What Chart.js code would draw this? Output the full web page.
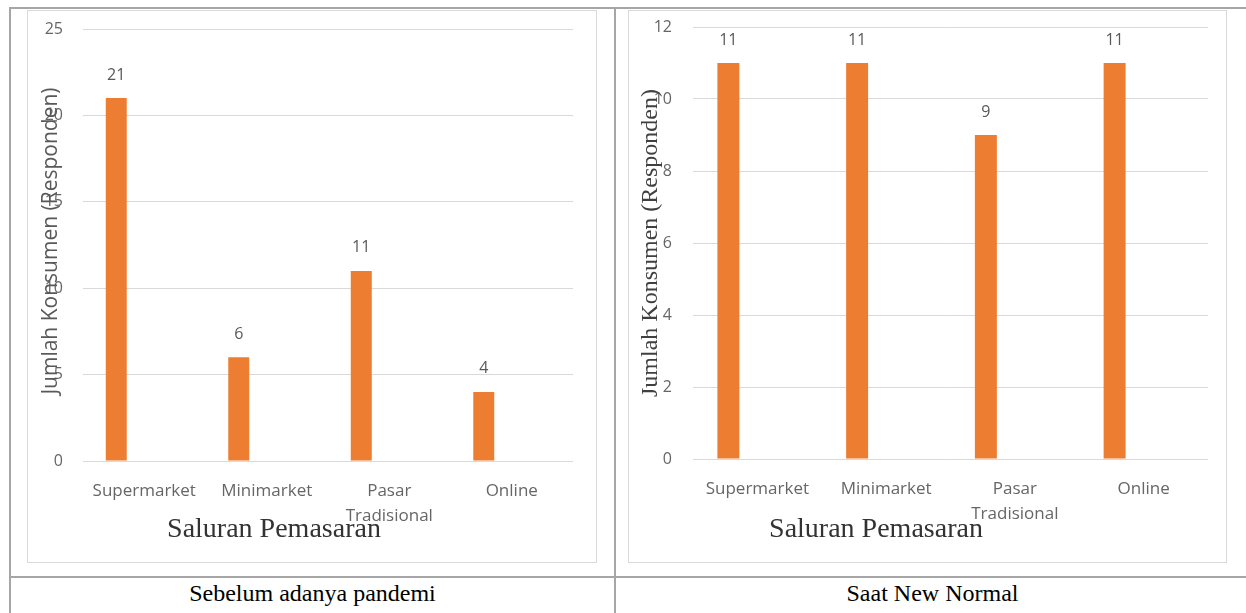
<!DOCTYPE html>
<html>
<head>
<meta charset="utf-8">
<script src="https://cdn.jsdelivr.net/npm/chart.js@4.4.0/dist/chart.umd.min.js"></script>
<style>
body { margin: 0; background: #fff; width: 1246px; height: 613px; overflow: hidden; position: relative; }
.line { position: absolute; background: #a6a6a6; }
.box { position: absolute; border: 1px solid #d9d9d9; box-sizing: border-box; }
canvas { position: absolute; }
.caption { position: absolute; top: 578px; height: 30px; line-height: 30px; text-align: center;
  font-family: "Liberation Serif", "Times New Roman", serif; font-size: 24px; color: #000; }
</style>
</head>
<body>
<!-- table lines -->
<div class="line" style="left:9px;top:7px;width:1237px;height:2px"></div>
<div class="line" style="left:9px;top:7px;width:2px;height:606px"></div>
<div class="line" style="left:614px;top:7px;width:2px;height:606px"></div>
<div class="line" style="left:9px;top:576px;width:1237px;height:2px"></div>

<div class="box" style="left:27px;top:10px;width:570px;height:553px"></div>
<div class="box" style="left:628px;top:10px;width:599px;height:553px"></div>
<canvas id="chartBefore" width="570" height="553" style="left:27px;top:10px"></canvas>
<canvas id="chartNormal" width="599" height="553" style="left:628px;top:10px"></canvas>

<div class="caption" style="left:10px;width:605px">Sebelum adanya pandemi</div>
<div class="caption" style="left:616px;width:633px">Saat New Normal</div>

<script>
// data
const channels = ['Supermarket', 'Minimarket', ['Pasar', 'Tradisional'], 'Online'];
const beforePandemic = [21, 6, 11, 4];
const newNormal = [11, 11, 9, 11];
const emptySeries = [null, null, null, null]; // Excel's hidden second series, keeps bars left of centre
const beforeTicks = { max: 25, step: 5 };
const normalTicks = { max: 12, step: 2 };

const orange = '#ED7D31';
const sans = '"Open Sans", "Noto Sans", sans-serif';
const serif = '"Liberation Serif", "Times New Roman", serif';

// axis titles drawn on top (they overlap the tick labels in the original) + value labels
const overlayText = {
    id: 'overlayText',
    afterDraw(chart, args, opts) {
        const ctx = chart.ctx;
        const area = chart.chartArea;

        // value labels above bars
        ctx.save();
        ctx.font = '16px ' + sans;
        ctx.fillStyle = '#595959';
        ctx.textAlign = 'center';
        ctx.textBaseline = 'middle';
        const meta = chart.getDatasetMeta(0);
        meta.data.forEach((bar, i) => {
            ctx.fillText(chart.data.datasets[0].data[i], bar.x, bar.y - 23);
        });
        ctx.restore();

        // x title
        ctx.save();
        ctx.font = '28px ' + serif;
        ctx.fillStyle = '#333';
        ctx.textAlign = 'center';
        ctx.textBaseline = 'middle';
        ctx.fillText('Saluran Pemasaran', opts.xTitleX, opts.xTitleY);
        ctx.restore();

        // y title
        ctx.save();
        ctx.font = opts.yTitleFont;
        ctx.fillStyle = opts.yTitleColor;
        ctx.textAlign = 'center';
        ctx.textBaseline = 'middle';
        ctx.translate(opts.yTitleX, (area.top + area.bottom) / 2 + opts.yTitleShift);
        ctx.rotate(-Math.PI / 2);
        ctx.fillText('Jumlah Konsumen (Responden)', 0, 0);
        ctx.restore();
    }
};

function makeChart(id, values, ticks, lay) {
    return new Chart(document.getElementById(id), {
        type: 'bar',
        data: {
            labels: channels,
            datasets: [
                { data: values, backgroundColor: orange, categoryPercentage: lay.cat, barPercentage: lay.bar },
                { data: emptySeries, backgroundColor: orange, categoryPercentage: lay.cat, barPercentage: lay.bar }
            ]
        },
        options: {
            responsive: false,
            animation: false,
            layout: { padding: { top: lay.top, right: lay.right, left: 0, bottom: 0 } },
            plugins: {
                legend: { display: false },
                tooltip: { enabled: false },
                overlayText: lay.titles
            },
            scales: {
                x: {
                    grid: { display: false },
                    border: { display: false },
                    ticks: {
                        color: '#666',
                        font: { family: sans, size: 17, lineHeight: '25px' },
                        padding: 10,
                        maxRotation: 0
                    },
                    afterFit(scale) { scale.height = lay.xHeight; }
                },
                y: {
                    min: 0,
                    max: ticks.max,
                    grid: { color: '#d9d9d9', drawTicks: false },
                    border: { display: false },
                    ticks: {
                        stepSize: ticks.step,
                        color: '#666',
                        font: { family: sans, size: 16 },
                        padding: lay.yPad
                    },
                    afterFit(scale) {
                        scale.width = lay.yWidth;
                        // tick padding would otherwise push the plot top down
                        scale.paddingTop = 0;
                        scale.paddingBottom = 0;
                    }
                }
            }
        },
        plugins: [overlayText]
    });
}

makeChart('chartBefore', beforePandemic, beforeTicks, {
    cat: 0.914, bar: 0.375, top: 19, right: 24, xHeight: 102, yWidth: 56, yPad: 20,
    titles: { xTitleX: 247, xTitleY: 520, yTitleX: 24, yTitleShift: -4, yTitleFont: '21px ' + sans, yTitleColor: '#595959' }
});

makeChart('chartNormal', newNormal, normalTicks, {
    cat: 0.901, bar: 0.379, top: 17, right: 19, xHeight: 104, yWidth: 65, yPad: 21,
    titles: { xTitleX: 248, xTitleY: 520, yTitleX: 23, yTitleShift: 0, yTitleFont: '24px ' + serif, yTitleColor: '#404040' }
});
</script>
</body>
</html>
